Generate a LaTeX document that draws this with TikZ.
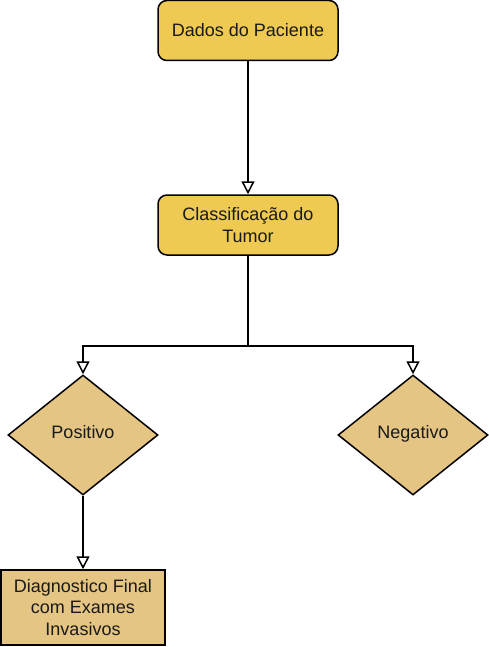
\documentclass[tikz,border=0pt]{standalone}
\usepackage{fontspec}
\setmainfont{Liberation Sans}
\usetikzlibrary{arrows.meta, shapes.geometric}
\definecolor{boxgold}{RGB}{238,202,82}
\definecolor{diamondtan}{RGB}{229,197,131}
\definecolor{inkgray}{RGB}{26,26,26}

\begin{document}
\begin{tikzpicture}[x=1pt, y=-1pt, line width=1.5pt,
  txt/.style={font=\fontsize{18}{21.6}\selectfont, text=inkgray, align=center},
  stepbox/.style={txt, draw, rounded corners=9pt, fill=boxgold,
    minimum width=180pt, minimum height=60pt, inner sep=0pt},
  endbox/.style={txt, draw, fill=diamondtan,
    minimum width=164pt, minimum height=75pt, inner sep=0pt},
  decision/.style={txt, draw, diamond, fill=diamondtan, text height=12pt, text depth=6pt,
    minimum width=150pt, minimum height=120pt, inner sep=0pt},
  arr/.style={-{Triangle[open, length=13pt, width=13pt]}}]
  \useasboundingbox (0,0) rectangle (489,647);

  % Nodes
  \node[stepbox] (dados) at (248,30.5) {Dados do Paciente};
  \node[stepbox] (classif) at (248,225) {Classificação do\\Tumor};
  \node[decision] (pos) at (83,435) {Positivo};
  \node[decision] (neg) at (413,435) {Negativo};
  \node[endbox] (final) at (83,607.5) {Diagnostico Final\\com Exames\\Invasivos};

  % Connectors
  \draw[arr] (dados) -- (classif);
  \draw (classif.south) -- ++(0,90) coordinate (split);
  \draw[arr] (split) -| (pos.north);
  \draw[arr] (split) -| (neg.north);
  \draw[arr] (pos.south) -- (final.north);
\end{tikzpicture}
\end{document}
